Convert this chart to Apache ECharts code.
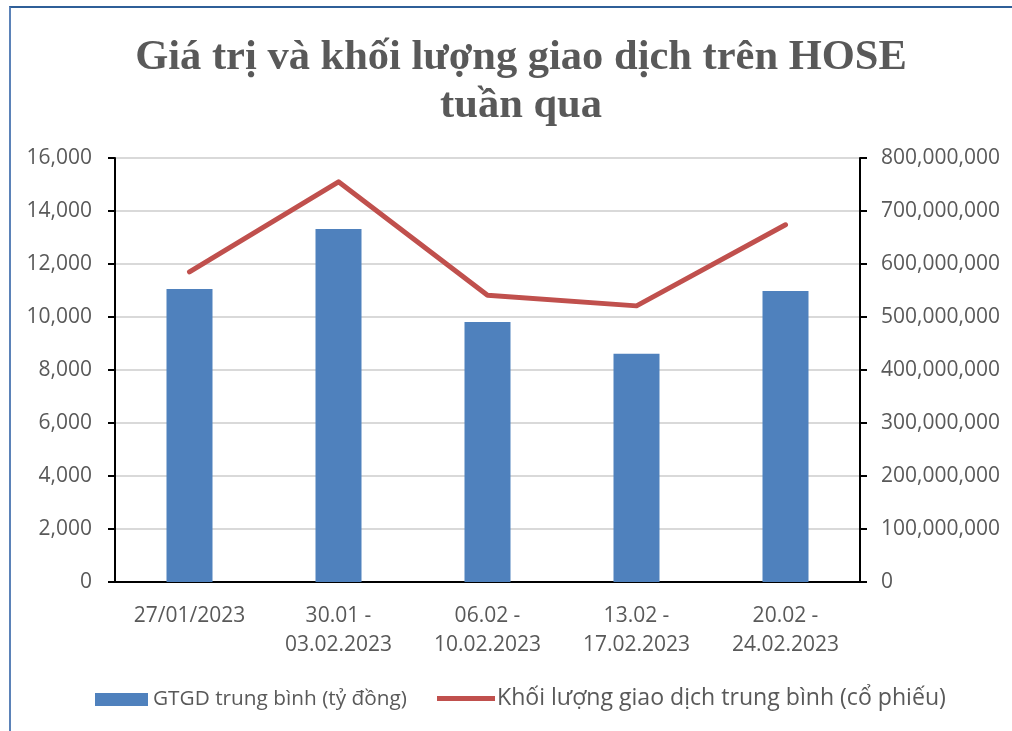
<!DOCTYPE html>
<html>
<head>
<meta charset="utf-8">
<script src="https://cdn.jsdelivr.net/npm/echarts@6/dist/echarts.min.js"></script>
<style>
  html, body { margin: 0; padding: 0; background: #fff; }
  #frame { position: absolute; left: 9px; top: 6px; width: 1003px; height: 725px;
           border-top: 2px solid #2f5f98; border-left: 2px solid #5b82b8; box-sizing: border-box; }
  #chart { position: absolute; left: 0; top: 0; width: 1012px; height: 731px; }
</style>
</head>
<body>
<div id="frame"></div>
<div id="chart"></div>
<script>
const titleText = 'Giá trị và khối lượng giao dịch trên HOSE\ntuần qua';
const categories = ['27/01/2023', '30.01 -\n03.02.2023', '06.02 -\n10.02.2023', '13.02 -\n17.02.2023', '20.02 -\n24.02.2023'];
const valueName = 'GTGD trung bình (tỷ đồng)';
const volumeName = 'Khối lượng giao dịch trung bình (cổ phiếu)';
const valueData = [11060, 13320, 9810, 8610, 10980];
const volumeData = [585000000, 755000000, 541000000, 521000000, 674000000];

const chart = echarts.init(document.getElementById('chart'), null, { renderer: 'canvas' });
const tickFont = { color: '#595959', fontFamily: 'Open Sans', fontSize: 21 };
const fmt = v => v.toLocaleString('en-US');

chart.setOption({
  backgroundColor: 'transparent',
  animation: false,
  title: {
    text: titleText,
    left: 516, top: 29, textAlign: 'center',
    textStyle: { fontFamily: 'Liberation Serif', fontWeight: 'bold', fontSize: 42.5, color: '#595959', lineHeight: 48 }
  },
  grid: { left: 115, right: 152, top: 158, bottom: 149, containLabel: false },
  legend: [
    {
      left: 90, top: 684, data: [{ name: valueName, icon: 'rect' }],
      itemWidth: 53, itemHeight: 13, itemGap: 5,
      textStyle: { fontFamily: 'Open Sans', fontSize: 20.8, color: '#595959' }
    },
    {
      left: 432, top: 682, data: [{ name: volumeName, icon: 'rect' }],
      itemWidth: 58, itemHeight: 5, itemGap: 3,
      textStyle: { fontFamily: 'Open Sans', fontSize: 23.1, color: '#595959', padding: [0, 0, 0, -3] }
    }
  ],
  xAxis: {
    type: 'category', data: categories,
    axisLine: { lineStyle: { color: '#000', width: 2 } },
    axisTick: { show: false },
    axisLabel: { ...tickFont, margin: 20, lineHeight: 29, interval: 0 }
  },
  yAxis: [
    {
      type: 'value', min: 0, max: 16000, interval: 2000, position: 'left',
      axisLine: { show: true, lineStyle: { color: '#000', width: 2 } },
      axisTick: { show: true, length: 7, lineStyle: { color: '#000', width: 2 } },
      axisLabel: { ...tickFont, margin: 23, formatter: fmt },
      splitLine: { lineStyle: { color: '#d9d9d9', width: 2 } }
    },
    {
      type: 'value', min: 0, max: 800000000, interval: 100000000, position: 'right',
      axisLine: { show: true, lineStyle: { color: '#000', width: 2 } },
      axisTick: { show: true, length: 7, lineStyle: { color: '#000', width: 2 } },
      axisLabel: { ...tickFont, margin: 21, formatter: fmt },
      splitLine: { show: false }
    }
  ],
  series: [
    {
      name: valueName, type: 'bar', data: valueData, yAxisIndex: 0,
      barWidth: 46, itemStyle: { color: '#4f81bd' }
    },
    {
      name: volumeName, type: 'line', data: volumeData, yAxisIndex: 1,
      symbol: 'none', lineStyle: { color: '#c0504d', width: 5, cap: 'round', join: 'round' },
      itemStyle: { color: '#c0504d' }
    }
  ]
});
</script>
</body>
</html>
